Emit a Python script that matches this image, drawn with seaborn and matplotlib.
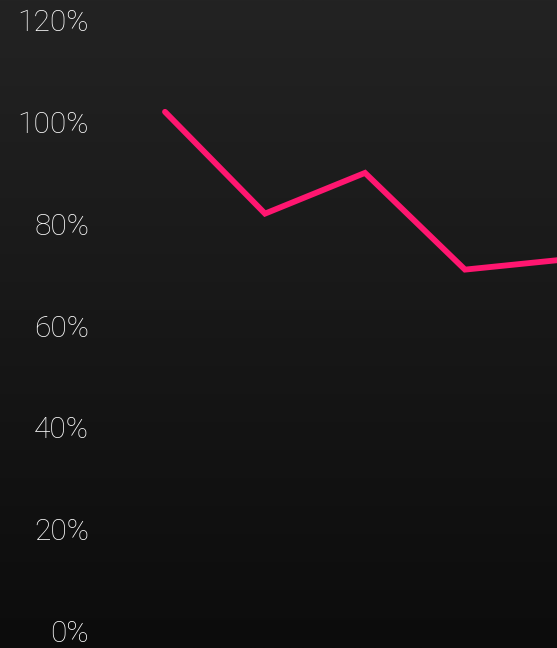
import numpy as np
import pandas as pd
import matplotlib
matplotlib.use("Agg")
import matplotlib.pyplot as plt
import seaborn as sns

# Series values (percent) per period
periods = [0, 1, 2, 3, 4]
values = [102, 82, 90, 71, 73]
tick_values = [0, 20, 40, 60, 80, 100, 120]
tick_labels = ["0%", "20%", "40%", "60%", "80%", "100%", "120%"]

sns.set_theme(style="dark")
plt.rcParams["font.family"] = ["Roboto", "DejaVu Sans"]

W, H, DPI = 557, 648, 100
fig = plt.figure(figsize=(W / DPI, H / DPI), dpi=DPI)
ax = fig.add_axes([0, 0, 1, 1])

# vertical dark gradient background
grad = np.linspace(0, 1, 256).reshape(-1, 1)
top = np.array([0x23, 0x23, 0x23]) / 255
bot = np.array([0x0c, 0x0c, 0x0c]) / 255
img = top + (bot - top) * grad[..., None]
ax.imshow(img, aspect="auto", extent=[0, 1, 0, 1], transform=ax.transAxes,
          zorder=0)

df = pd.DataFrame({"period": periods, "value": values})
sns.lineplot(data=df, x="period", y="value", ax=ax, color="#ff1670",
             linewidth=4.2, solid_capstyle="round", solid_joinstyle="miter",
             zorder=3)

# pixel mapping: 100 px per period, first point at x=165; 0% at y=631, 20% per 101.8 px
px_per_unit = 100.0
ax.set_xlim(-165 / px_per_unit, (W - 165) / px_per_unit)
py = 101.8 / 20
ax.set_ylim(-(H - 631) / py, 631 / py)

ax.set_yticks(tick_values)
ax.set_yticklabels(tick_labels)
ax.set_xticks([])
ax.tick_params(axis="y", length=0, pad=-89 * 72 / DPI, labelsize=21.5,
               labelcolor="#ffffff")
for t in ax.get_yticklabels():
    t.set_fontweight("light")
    t.set_color("#ffffff")
ax.grid(False)
ax.set_xlabel("")
ax.set_ylabel("")
for s in ax.spines.values():
    s.set_visible(False)

fig.savefig("out.png", dpi=DPI)
